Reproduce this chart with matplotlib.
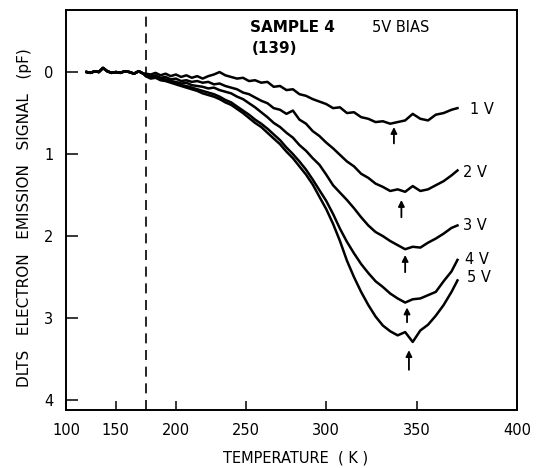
import numpy as np
import matplotlib
matplotlib.use('Agg')
import matplotlib.pyplot as plt

plt.rcParams['font.family'] = 'DejaVu Sans'
plt.rcParams['font.size'] = 10

# common trace before the dashed line (all biases overlap)
temp_common = [122, 126, 130, 134, 138, 142, 146, 150, 154, 158, 162, 166, 170, 174]
dlts_common = [0.00, 0.01, -0.01, 0.00, -0.05, -0.01, 0.01, 0.00, 0.01, -0.01, 0.00, 0.02, -0.01, 0.02]

temp = [176, 180, 184, 188, 192, 196, 200, 204, 208, 212, 216, 220, 224, 228, 232, 236,
        240, 244, 248, 252, 256, 260, 264, 268, 272, 276, 280, 284, 288, 292, 296, 300,
        304, 308, 312, 316, 320, 324, 328, 332, 336, 340, 344, 348, 352, 356, 360, 364,
        368, 371]

dlts_1v = [0.02, 0.03, 0.01, 0.04, 0.02, 0.05, 0.03, 0.06, 0.04, 0.07, 0.05, 0.08, 0.05, 0.03,
           0.00, 0.04, 0.06, 0.08, 0.07, 0.11, 0.10, 0.13, 0.12, 0.18, 0.17, 0.22, 0.21, 0.27,
           0.29, 0.33, 0.36, 0.39, 0.44, 0.43, 0.50, 0.49, 0.55, 0.57, 0.61, 0.60, 0.63, 0.61,
           0.59, 0.51, 0.57, 0.59, 0.52, 0.50, 0.46, 0.44]
dlts_2v = [0.03, 0.05, 0.04, 0.07, 0.06, 0.09, 0.08, 0.11, 0.10, 0.12, 0.11, 0.13, 0.12, 0.15,
           0.14, 0.17, 0.19, 0.21, 0.25, 0.27, 0.31, 0.35, 0.38, 0.44, 0.46, 0.51, 0.47, 0.58,
           0.63, 0.72, 0.78, 0.86, 0.93, 1.01, 1.09, 1.15, 1.24, 1.29, 1.36, 1.40, 1.45, 1.43,
           1.46, 1.39, 1.45, 1.43, 1.38, 1.33, 1.26, 1.20]
dlts_3v = [0.04, 0.06, 0.05, 0.08, 0.09, 0.11, 0.12, 0.14, 0.13, 0.16, 0.17, 0.18, 0.20, 0.19,
           0.22, 0.24, 0.26, 0.30, 0.33, 0.38, 0.43, 0.49, 0.55, 0.62, 0.67, 0.74, 0.80, 0.89,
           0.96, 1.05, 1.13, 1.25, 1.38, 1.47, 1.56, 1.66, 1.77, 1.87, 1.95, 2.00, 2.06, 2.11,
           2.16, 2.13, 2.14, 2.08, 2.03, 1.97, 1.90, 1.87]
dlts_4v = [0.05, 0.07, 0.06, 0.09, 0.10, 0.12, 0.14, 0.16, 0.17, 0.19, 0.21, 0.23, 0.25, 0.27,
           0.30, 0.34, 0.37, 0.42, 0.47, 0.52, 0.58, 0.63, 0.69, 0.76, 0.83, 0.92, 1.00, 1.09,
           1.19, 1.31, 1.44, 1.57, 1.73, 1.91, 2.07, 2.21, 2.34, 2.45, 2.55, 2.62, 2.70, 2.76,
           2.81, 2.77, 2.76, 2.72, 2.68, 2.55, 2.43, 2.29]
dlts_5v = [0.05, 0.08, 0.07, 0.10, 0.11, 0.13, 0.15, 0.17, 0.19, 0.21, 0.23, 0.26, 0.28, 0.30,
           0.33, 0.37, 0.40, 0.45, 0.50, 0.56, 0.62, 0.67, 0.74, 0.81, 0.88, 0.97, 1.05, 1.15,
           1.25, 1.37, 1.52, 1.67, 1.85, 2.06, 2.30, 2.50, 2.68, 2.84, 2.98, 3.09, 3.16, 3.21,
           3.17, 3.29, 3.15, 3.08, 2.97, 2.84, 2.68, 2.54]

curves = [dlts_1v, dlts_2v, dlts_3v, dlts_4v, dlts_5v]
bias_labels = ['1 V', '2 V', '3 V', '4 V', '5 V']
label_temp = [377, 374, 374, 375, 376]
label_dlts = [0.46, 1.22, 1.87, 2.28, 2.51]

# peak markers (arrows)
arrow_temp = [338, 342, 344, 345, 346]
arrow_head = [0.67, 1.56, 2.23, 2.87, 3.39]
arrow_tail = [0.87, 1.77, 2.44, 3.05, 3.63]

dashed_temp = 176


# the printed temperature axis is stretched towards high T
def fwd(t):
    t = np.asarray(t, dtype=float)
    return 0.4922 * t + 0.0020222 * t ** 2


def inv(u):
    u = np.asarray(u, dtype=float)
    return (-0.4922 + np.sqrt(np.maximum(0.4922 ** 2 + 4 * 0.0020222 * u, 0))) / (2 * 0.0020222)


fig = plt.figure(figsize=(5.36, 4.68), dpi=100)
ax = fig.add_axes([0.1231, 0.1239, 0.8414, 0.8547])
ax.set_xscale('function', functions=(fwd, inv))

for vals in curves:
    ax.plot(temp_common + temp, dlts_common + vals, color='black', lw=1.8)

ax.axvline(dashed_temp, color='black', lw=1.2, dashes=(6, 4))

for t, y, lab in zip(label_temp, label_dlts, bias_labels):
    ax.text(t, y, lab, fontsize=10.5, va='center', ha='left')

for t, h, tl in zip(arrow_temp, arrow_head, arrow_tail):
    ax.annotate('', xy=(t, h), xytext=(t, tl),
                arrowprops=dict(arrowstyle='-|>', color='black', lw=1.3, mutation_scale=9,
                                shrinkA=0, shrinkB=0))

ax.text(0.408, 0.9575, 'SAMPLE 4', transform=ax.transAxes, fontsize=11,
        fontweight='bold', va='center', ha='left')
ax.text(0.678, 0.9575, '5V BIAS', transform=ax.transAxes, fontsize=10.5,
        va='center', ha='left')
ax.text(0.412, 0.905, '(139)', transform=ax.transAxes, fontsize=11,
        fontweight='bold', va='center', ha='left')

ax.set_xlim(100, 400)
ax.set_ylim(4.12, -0.756)
ax.set_xticks([100, 150, 200, 250, 300, 350, 400])
ax.set_yticks([0, 1, 2, 3, 4])
ax.tick_params(axis='x', direction='in', length=6.5, width=1.1, pad=9, labelsize=10.5)
ax.tick_params(axis='y', direction='in', length=8.5, width=1.1, pad=9, labelsize=10.5)
for s in ax.spines.values():
    s.set_linewidth(1.4)

ax.set_xlabel('TEMPERATURE  ( K )', fontsize=10.5)
ax.xaxis.set_label_coords(0.508, -0.10)
ax.set_ylabel('DLTS   ELECTRON   EMISSION   SIGNAL   (pF)', fontsize=11)
ax.yaxis.set_label_coords(-0.075, 0.48)

fig.savefig('out.png', dpi=100)
